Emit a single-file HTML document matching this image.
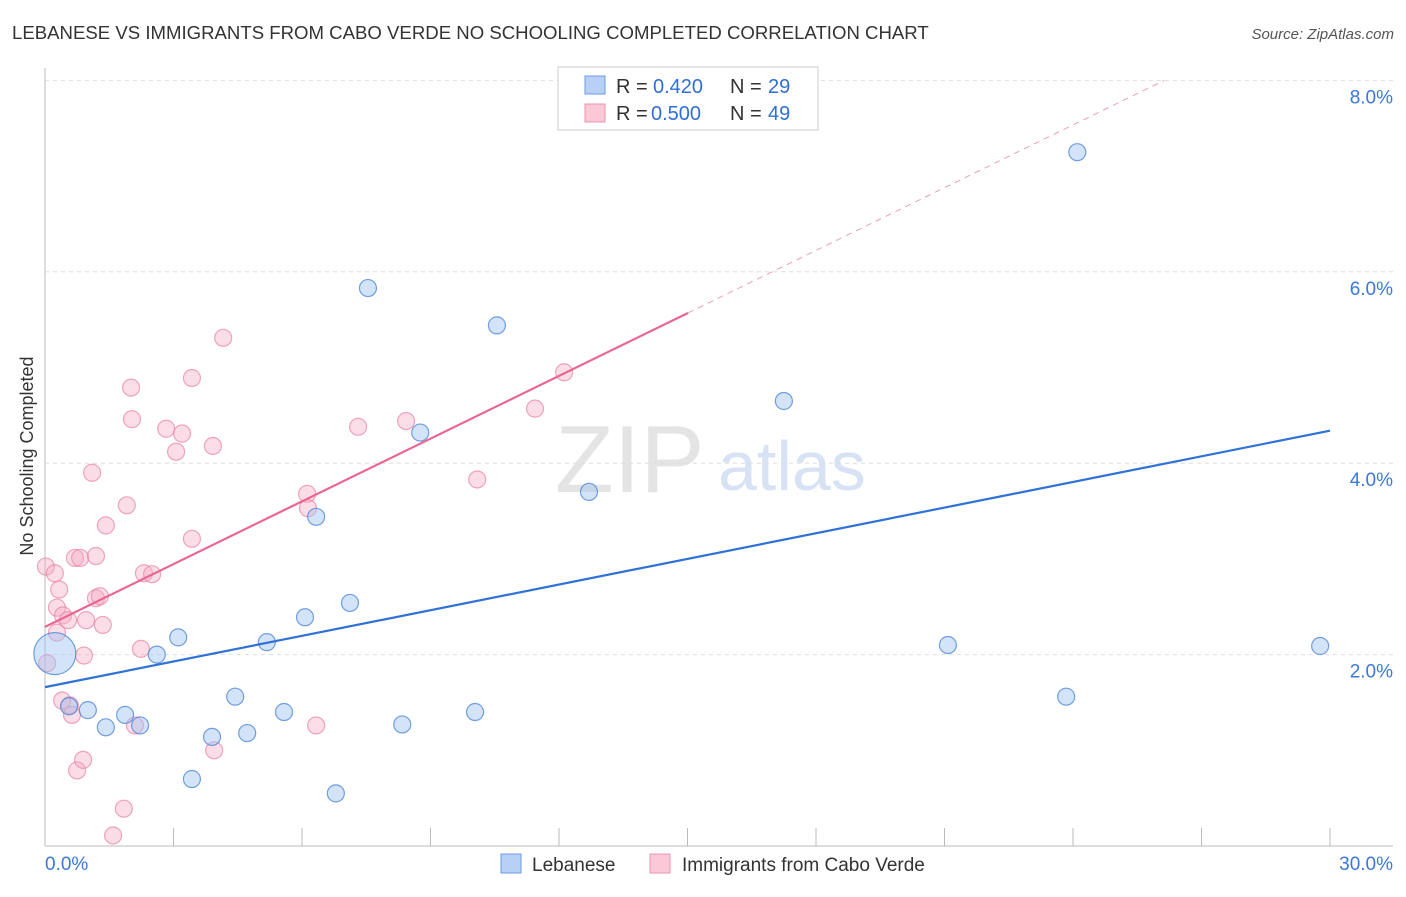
<!DOCTYPE html>
<html><head><meta charset="utf-8"><style>
body{margin:0;background:#fff;font-family:"Liberation Sans",sans-serif}
svg text{font-family:"Liberation Sans",sans-serif}
</style></head><body>
<svg id="c" width="1406" height="892">
<text x="12" y="39" font-size="18.6" fill="#333">LEBANESE VS IMMIGRANTS FROM CABO VERDE NO SCHOOLING COMPLETED CORRELATION CHART</text>
<text x="1394" y="39" font-size="15" fill="#555" font-style="italic" text-anchor="end">Source: ZipAtlas.com</text>
<text x="33" y="456" font-size="18" fill="#333" text-anchor="middle" transform="rotate(-90 33 456)">No Schooling Completed</text>
<text x="555" y="492" font-size="96" fill="#e4e4e4" font-family="Liberation Serif">ZIP</text>
<text x="718" y="490" font-size="70" fill="#d7e3f5">atlas</text>
<g id="grid"></g><g id="marks"></g>
<g>
<rect x="558" y="67" width="260" height="63" fill="#fff" stroke="#ccc"/>
<rect x="585" y="76" width="20" height="18" fill="#b8d0f5" stroke="#6a9be0"/>
<rect x="585" y="104" width="20" height="18" fill="#fac8d6" stroke="#e895ae"/>
<text x="616" y="93" font-size="20" fill="#333">R =</text><text x="653" y="93" font-size="20" fill="#2f6fd4">0.420</text>
<text x="730" y="93" font-size="20" fill="#333">N =</text><text x="768" y="93" font-size="20" fill="#2f6fd4">29</text>
<text x="616" y="120" font-size="20" fill="#333">R =</text><text x="651" y="120" font-size="20" fill="#2f6fd4">0.500</text>
<text x="730" y="120" font-size="20" fill="#333">N =</text><text x="768" y="120" font-size="20" fill="#2f6fd4">49</text>
</g>
<g>
<rect x="501" y="854" width="20" height="19" fill="#b8d0f5" stroke="#6a9be0"/>
<text x="532" y="871" font-size="19" fill="#333">Lebanese</text>
<rect x="650" y="854" width="20" height="19" fill="#fac8d6" stroke="#e895ae"/>
<text x="682" y="871" font-size="19" fill="#333">Immigrants from Cabo Verde</text>
</g>
</svg>
<script>
const yTicks=[2,4,6,8];
const yTickLabels=["2.0%","4.0%","6.0%","8.0%"];
const xTickCount=10;
const blueX=[0.23,1.00,1.42,1.87,2.22,2.61,3.11,3.43,3.90,4.44,4.72,5.18,5.58,6.07,6.33,6.79,7.12,7.54,8.34,8.76,10.04,10.55,12.70,17.25,21.08,23.84,24.10,29.77,0.56];
const blueY=[2.01,1.42,1.24,1.37,1.26,2.00,2.18,0.70,1.14,1.56,1.18,2.13,1.40,2.39,3.44,0.55,2.54,5.83,1.27,4.32,1.40,5.44,3.70,4.65,2.10,1.56,7.25,2.09,1.46];
const pinkX=[0.02,0.05,0.23,0.28,0.33,0.28,0.42,0.40,0.54,0.58,0.63,0.70,0.75,0.82,0.89,0.91,0.96,1.10,1.19,1.19,1.28,1.35,1.42,1.59,1.84,1.91,2.01,2.03,2.10,2.24,2.31,2.50,2.83,3.06,3.20,3.43,3.43,3.92,3.95,4.16,6.12,6.14,6.33,7.31,8.43,10.09,11.44,12.12];
const pinkY=[2.92,1.91,2.85,2.49,2.68,2.23,2.41,1.52,2.36,1.47,1.37,3.01,0.79,3.01,0.90,1.99,2.36,3.90,3.03,2.59,2.61,2.31,3.35,0.11,0.39,3.56,4.79,4.46,1.26,2.06,2.85,2.84,4.36,4.12,4.31,3.21,4.89,4.18,1.00,5.31,3.68,3.53,1.26,4.38,4.44,3.83,4.57,4.95];
const blueTrend=[1.66,4.34];
const pinkTrend=[2.29,5.57,15.01];
const NS="http://www.w3.org/2000/svg";
const X=v=>45+v*(1330-45)/30, Y=v=>846-v*95.7;
function mk(t,a,p){const e=document.createElementNS(NS,t);for(const k in a)e.setAttribute(k,a[k]);p.appendChild(e);return e;}
const g=document.getElementById('grid'),m=document.getElementById('marks');
let ax=mk('line',{x1:45,y1:68,x2:45,y2:846,stroke:'#bbb'},g);


let bx=mk('line',{x1:45,y1:846,x2:1393,y2:846,stroke:'#bbb'},g);


for(let i=1;i<=xTickCount;i++){const tx=X(i*3);const t=mk('line',{x1:tx,y1:828,x2:tx,y2:846,stroke:'#bbb'},g);

}
yTicks.forEach((v,i)=>{const l=mk('line',{x1:45,y1:Y(v),x2:1393,y2:Y(v),stroke:'#ddd','stroke-dasharray':'4,4'},g);


const t=mk('text',{x:1393,y:Y(v)+23,'font-size':19,fill:'#3b78d8','text-anchor':'end'},g);t.textContent=yTickLabels[i];

});
const x0=mk('text',{x:45,y:870,'font-size':19,fill:'#3b78d8'},g);x0.textContent="0.0%";


const x1=mk('text',{x:1393,y:870,'font-size':19,fill:'#3b78d8','text-anchor':'end'},g);x1.textContent="30.0%";


pinkX.forEach((v,i)=>{const c=mk('circle',{cx:X(v),cy:Y(pinkY[i]),r:8.5,fill:'rgba(246,170,195,0.4)',stroke:'rgba(232,130,165,0.7)','stroke-width':1.2},m);

});
blueX.forEach((v,i)=>{const c=mk('circle',{cx:X(v),cy:Y(blueY[i]),r:i==0?21:8.5,fill:'rgba(160,195,240,0.45)',stroke:'rgba(70,130,215,0.75)','stroke-width':1.2},m);

});
const slope=(pinkTrend[1]-pinkTrend[0])/pinkTrend[2];
const xEnd=(8.0-pinkTrend[0])/slope;
let pd=mk('line',{x1:X(pinkTrend[2]),y1:Y(pinkTrend[1]),x2:X(xEnd),y2:Y(8.0),stroke:'#eaa0b8','stroke-dasharray':'6,5','stroke-width':1},m);


let pl=mk('line',{x1:X(0),y1:Y(pinkTrend[0]),x2:X(pinkTrend[2]),y2:Y(pinkTrend[1]),stroke:'#e8668f','stroke-width':2.2},m);


let bl=mk('line',{x1:X(0),y1:Y(blueTrend[0]),x2:X(30),y2:Y(blueTrend[1]),stroke:'#2f72d6','stroke-width':2.2},m);


</script>
</body></html>
